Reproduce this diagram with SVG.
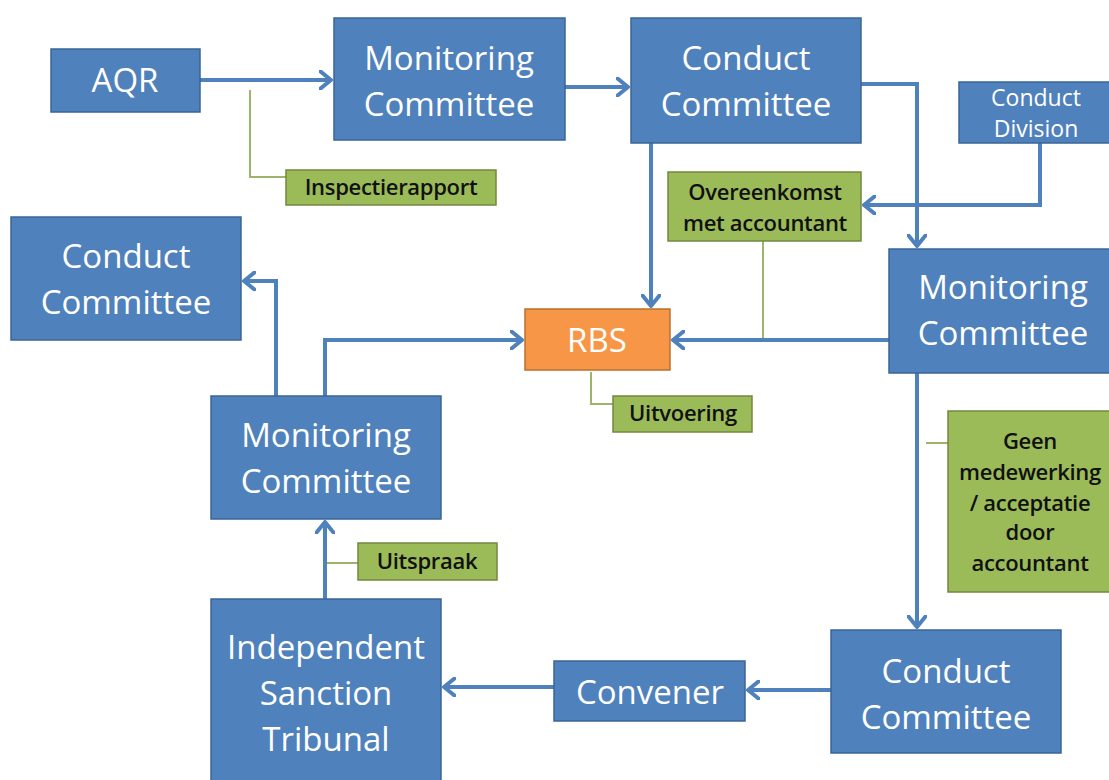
<svg xmlns="http://www.w3.org/2000/svg" width="1109" height="780" viewBox="0 0 1109 780">
<defs>
<style>
.b{fill:#4F81BD;stroke:#3A6597;stroke-width:1.5}
.o{fill:#F79646;stroke:#B8702F;stroke-width:1.5}
.g{fill:#9BBB59;stroke:#71893F;stroke-width:1.5}
.t{font-family:"Open Sans","Liberation Sans",sans-serif;font-size:33px;fill:#fff;text-anchor:middle}
.ts{font-family:"Open Sans","Liberation Sans",sans-serif;font-size:23px;fill:#fff;text-anchor:middle}
.l{font-family:"Open Sans","Liberation Sans",sans-serif;font-size:22px;font-weight:600;fill:#111;text-anchor:middle;letter-spacing:-0.3px}
.c{fill:none;stroke:#4F81BD;stroke-width:4}
.gl{fill:none;stroke:#9DB56B;stroke-width:2}
</style>
<marker id="ah" viewBox="0 0 14 20" markerWidth="14" markerHeight="20" refX="12" refY="10" orient="auto" markerUnits="userSpaceOnUse">
<path d="M1.5,1.5 L12,10 L1.5,18.5" fill="none" stroke="#4F81BD" stroke-width="4" stroke-linecap="round" stroke-linejoin="round"/>
</marker>
</defs>
<g id="connectors">
<path class="c" d="M200,80 H331" marker-end="url(#ah)"/>
<path class="c" d="M565,87 H628" marker-end="url(#ah)"/>
<path class="c" d="M861,84 H917 V246" marker-end="url(#ah)"/>
<path class="c" d="M1040,143 V205 H864" marker-end="url(#ah)"/>
<path class="c" d="M651,143 V306" marker-end="url(#ah)"/>
<path class="c" d="M889,340 H673" marker-end="url(#ah)"/>
<path class="c" d="M917,373 V627" marker-end="url(#ah)"/>
<path class="c" d="M831,690 H748" marker-end="url(#ah)"/>
<path class="c" d="M554,687 H444" marker-end="url(#ah)"/>
<path class="c" d="M325,599 V522" marker-end="url(#ah)"/>
<path class="c" d="M276,396 V281 H244" marker-end="url(#ah)"/>
<path class="c" d="M325,396 V340 H522" marker-end="url(#ah)"/>
<path class="gl" d="M250,90 V177 H286"/>
<path class="gl" d="M763,241 V338"/>
<path class="gl" d="M591,372 V404 H613"/>
<path class="gl" d="M926,443 H948"/>
<path class="gl" d="M327,563 H358"/>
</g>
<g id="aqr"><rect class="b" x="51" y="49" width="149" height="63"/><text class="t" x="125" y="92">AQR</text></g>
<g id="monitoring-top"><rect class="b" x="334" y="18" width="231" height="122"/><text class="t" x="449" y="70">Monitoring</text><text class="t" x="449" y="116">Committee</text></g>
<g id="conduct-top"><rect class="b" x="631" y="18" width="230" height="125"/><text class="t" x="746" y="70">Conduct</text><text class="t" x="746" y="116">Committee</text></g>
<g id="conduct-division"><rect class="b" x="959" y="82" width="152" height="61"/><text class="ts" x="1036" y="106">Conduct</text><text class="ts" x="1036" y="137">Division</text></g>
<g id="inspectierapport"><rect class="g" x="286" y="170" width="210" height="35"/><text class="l" x="391" y="195">Inspectierapport</text></g>
<g id="overeenkomst"><rect class="g" x="668" y="172" width="193" height="69"/><text class="l" x="765" y="200">Overeenkomst</text><text class="l" x="765" y="231">met accountant</text></g>
<g id="conduct-left"><rect class="b" x="11" y="217" width="230" height="123"/><text class="t" x="126" y="268">Conduct</text><text class="t" x="126" y="314">Committee</text></g>
<g id="rbs"><rect class="o" x="525" y="309" width="145" height="61"/><text class="t" x="597" y="352">RBS</text></g>
<g id="monitoring-right"><rect class="b" x="889" y="249" width="222" height="124"/><text class="t" x="1003" y="299">Monitoring</text><text class="t" x="1003" y="345">Committee</text></g>
<g id="uitvoering"><rect class="g" x="613" y="396" width="139" height="36"/><text class="l" x="683" y="421">Uitvoering</text></g>
<g id="monitoring-left"><rect class="b" x="211" y="396" width="230" height="123"/><text class="t" x="326" y="447">Monitoring</text><text class="t" x="326" y="493">Committee</text></g>
<g id="geen"><rect class="g" x="948" y="411" width="163" height="181"/><text class="l" x="1030" y="449">Geen</text><text class="l" x="1030" y="480">medewerking</text><text class="l" x="1030" y="511">/ acceptatie</text><text class="l" x="1030" y="540">door</text><text class="l" x="1030" y="571">accountant</text></g>
<g id="uitspraak"><rect class="g" x="358" y="543" width="139" height="37"/><text class="l" x="427" y="569">Uitspraak</text></g>
<g id="tribunal"><rect class="b" x="211" y="599" width="230" height="190"/><text class="t" x="326" y="659">Independent</text><text class="t" x="326" y="705">Sanction</text><text class="t" x="326" y="751">Tribunal</text></g>
<g id="convener"><rect class="b" x="554" y="661" width="191" height="60"/><text class="t" x="650" y="704">Convener</text></g>
<g id="conduct-bottom"><rect class="b" x="831" y="630" width="230" height="123"/><text class="t" x="946" y="683">Conduct</text><text class="t" x="946" y="729">Committee</text></g>
</svg>
